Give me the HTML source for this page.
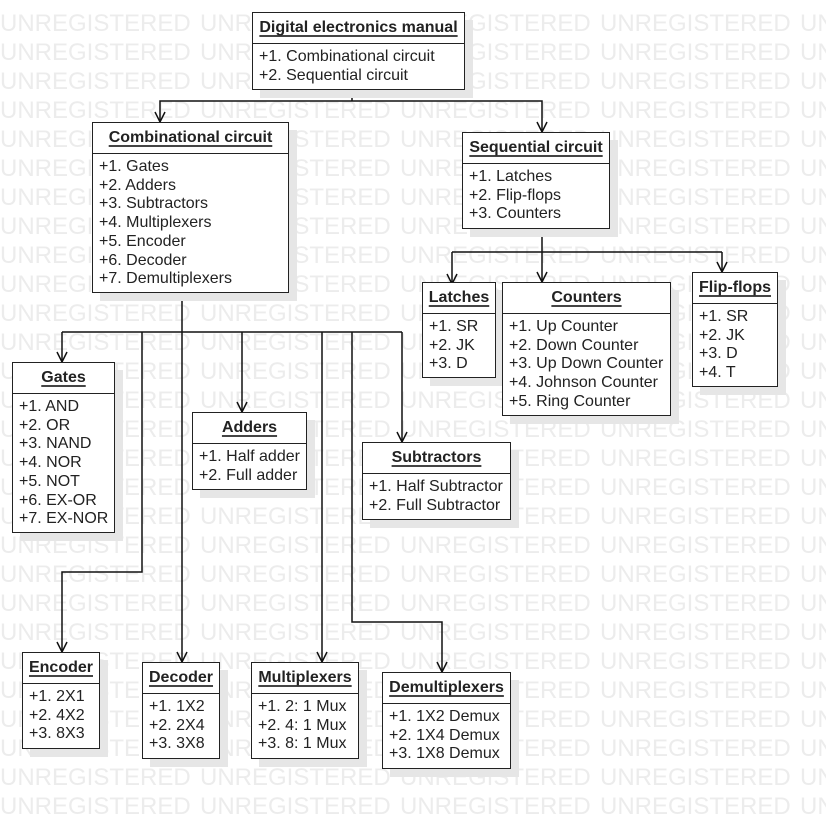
<!DOCTYPE html>
<html><head><meta charset="utf-8"><style>
body{margin:0;width:826px;height:818px;background:#fff;position:relative;overflow:hidden;font-family:"Liberation Sans",Arial,sans-serif;}
#wm{position:absolute;left:0;top:0;width:826px;height:818px;overflow:hidden;}
.wm{position:absolute;left:0;width:826px;overflow:hidden;white-space:nowrap;color:#ececec;font-size:24px;line-height:30px;}
.wm span{display:inline-block;width:200px;}
.b{position:absolute;background:#fff;border:1.5px solid #222;box-sizing:border-box;box-shadow:8px 8px 0 #e6e6e6;color:#222;}
.h{height:30px;border-bottom:1.5px solid #222;text-align:center;font-weight:bold;font-size:16px;line-height:30px;white-space:nowrap;}
.h u{text-decoration:underline;text-decoration-thickness:2px;text-underline-offset:3px;text-decoration-color:#444;}
.bd{padding:4px 6px 2px 6px;font-size:16px;line-height:18.7px;white-space:nowrap;}
svg{position:absolute;left:0;top:0;}
</style></head><body>
<div id="wm"></div>
<script>
var w=document.getElementById('wm');var s='';
for(var i=0;i<28;i++){s+='<div class="wm" style="top:'+(9+i*29)+'px"><span>UNREGISTERED</span><span>UNREGISTERED</span><span>UNREGISTERED</span><span>UNREGISTERED</span><span>UNREGISTERED</span></div>';}
w.innerHTML=s;
</script>
<svg width="826" height="818" fill="none" stroke="#111" stroke-width="1.5">
<path d="M352 90V101H160V122M352 101H542V132"/>
<path d="M155 112L160 122L165 112M537 122L542 132L547 122"/>
<path d="M182 293V662M62 332H402M62 332V362M242 332V412M402 332V442M142 332V572H62V652M322 332V662M352 332V622H442V672"/>
<path d="M57 352L62 362L67 352M237 402L242 412L247 402M397 432L402 442L407 432M57 642L62 652L67 642M177 652L182 662L187 652M317 652L322 662L327 652M437 662L442 672L447 662"/>
<path d="M542 229V282M452 252H722M452 252V284M722 252V272"/>
<path d="M447 274L452 284L457 274M537 272L542 282L547 272M717 262L722 272L727 262"/>
</svg>
<div class="b" style="left:252px;top:12px;width:213px;height:78px"><div class="h"><u>Digital electronics manual</u></div><div class="bd">+1. Combinational circuit<br>+2. Sequential circuit</div></div>
<div class="b" style="left:92px;top:122px;width:197px;height:171px"><div class="h"><u>Combinational circuit</u></div><div class="bd">+1. Gates<br>+2. Adders<br>+3. Subtractors<br>+4. Multiplexers<br>+5. Encoder<br>+6. Decoder<br>+7. Demultiplexers</div></div>
<div class="b" style="left:462px;top:132px;width:148px;height:97px"><div class="h"><u>Sequential circuit</u></div><div class="bd">+1. Latches<br>+2. Flip-flops<br>+3. Counters</div></div>
<div class="b" style="left:422px;top:282px;width:74px;height:96px"><div class="h"><u>Latches</u></div><div class="bd">+1. SR<br>+2. JK<br>+3. D</div></div>
<div class="b" style="left:502px;top:282px;width:169px;height:134px"><div class="h"><u>Counters</u></div><div class="bd">+1. Up Counter<br>+2. Down Counter<br>+3. Up Down Counter<br>+4. Johnson Counter<br>+5. Ring Counter</div></div>
<div class="b" style="left:692px;top:272px;width:86px;height:115px"><div class="h"><u>Flip-flops</u></div><div class="bd">+1. SR<br>+2. JK<br>+3. D<br>+4. T</div></div>
<div class="b" style="left:12px;top:362px;width:103px;height:171px"><div class="h"><u>Gates</u></div><div class="bd">+1. AND<br>+2. OR<br>+3. NAND<br>+4. NOR<br>+5. NOT<br>+6. EX-OR<br>+7. EX-NOR</div></div>
<div class="b" style="left:192px;top:412px;width:115px;height:78px"><div class="h"><u>Adders</u></div><div class="bd">+1. Half adder<br>+2. Full adder</div></div>
<div class="b" style="left:362px;top:442px;width:149px;height:78px"><div class="h"><u>Subtractors</u></div><div class="bd">+1. Half Subtractor<br>+2. Full Subtractor</div></div>
<div class="b" style="left:22px;top:652px;width:78px;height:97px"><div class="h"><u>Encoder</u></div><div class="bd">+1. 2X1<br>+2. 4X2<br>+3. 8X3</div></div>
<div class="b" style="left:142px;top:662px;width:78px;height:97px"><div class="h"><u>Decoder</u></div><div class="bd">+1. 1X2<br>+2. 2X4<br>+3. 3X8</div></div>
<div class="b" style="left:251px;top:662px;width:108px;height:97px"><div class="h"><u>Multiplexers</u></div><div class="bd">+1. 2: 1 Mux<br>+2. 4: 1 Mux<br>+3. 8: 1 Mux</div></div>
<div class="b" style="left:382px;top:672px;width:129px;height:97px"><div class="h"><u>Demultiplexers</u></div><div class="bd">+1. 1X2 Demux<br>+2. 1X4 Demux<br>+3. 1X8 Demux</div></div>
</body></html>
